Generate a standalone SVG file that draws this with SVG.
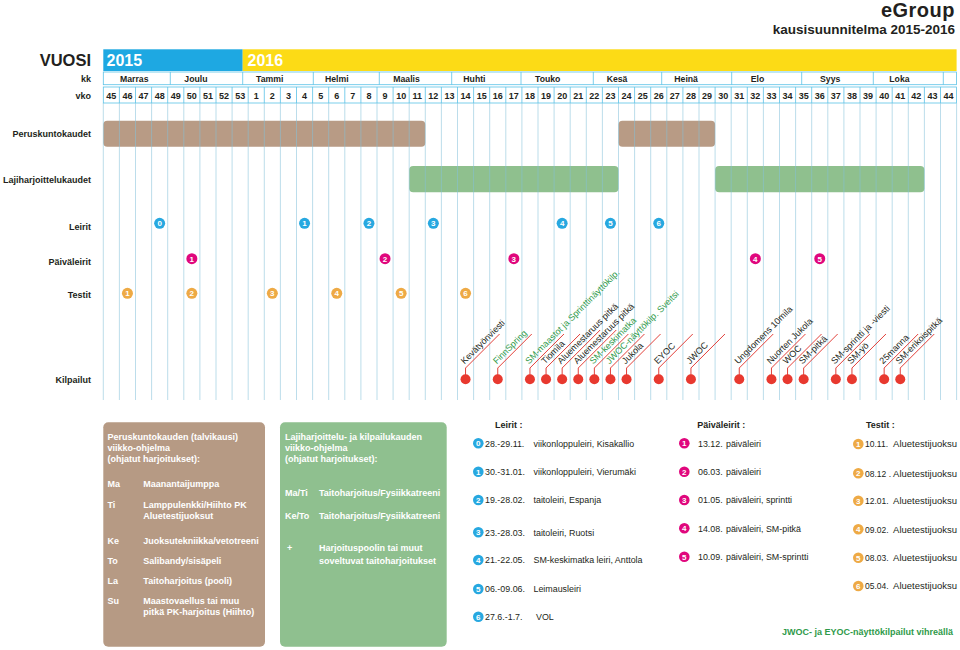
<svg xmlns="http://www.w3.org/2000/svg" width="960" height="650" viewBox="0 0 960 650">
<style>
text{font-family:"Liberation Sans",Arial,sans-serif}
.lbl{font-size:9px;font-weight:bold;fill:#231f20;text-anchor:end}
.mo{font-size:8.7px;font-weight:bold;fill:#231f20}
.wk{font-size:9px;font-weight:bold;fill:#231f20;text-anchor:middle}
.cell{fill:#fff;stroke:#5bc2e7;stroke-width:0.8}
.sep{stroke:#5bc2e7;stroke-width:0.8}
.grid{stroke:#84c2da;stroke-width:0.9;opacity:0.6}
.barb{fill:#b89b85}
.barg{fill:#8fc08e}
.cb{fill:#27a8e0}.cm{fill:#e0077d}.co{fill:#eeaa45}
.num{font-size:8px;font-weight:bold;fill:#fff;text-anchor:middle}
.dot{fill:#e8392f}
.lead{fill:none;stroke:#e2403a;stroke-width:1}
.comp{font-size:9px;fill:#231f20}
.gr{fill:#2f9a4a}
.box{font-size:9px;font-weight:bold;fill:#fff}
.leg{font-size:8.9px;fill:#231f20}
.legd{font-size:8.5px;fill:#231f20}
.legt{font-size:9.5px;fill:#231f20;text-anchor:end}
.legh{font-size:9px;font-weight:bold;fill:#231f20}
</style>
<rect width="960" height="650" fill="#fff"/>

<g id="title">
<text x="955" y="17" text-anchor="end" font-size="20" font-weight="bold" fill="#231f20" letter-spacing="0.5">eGroup</text>
<text x="955" y="33.5" text-anchor="end" font-size="13.5" font-weight="bold" fill="#231f20">kausisuunnitelma 2015-2016</text>
</g>

<g id="header">
<text x="91" y="66" text-anchor="end" font-size="16.5" font-weight="bold" fill="#231f20">VUOSI</text>
<rect x="103.3" y="49.3" width="139.4" height="21.7" fill="#1ea8e2"/>
<rect x="242.7" y="49.3" width="713.9" height="21.7" fill="#fcdb16"/>
<text x="106.5" y="66" font-size="16" font-weight="bold" fill="#fff">2015</text>
<text x="247.5" y="66" font-size="16" font-weight="bold" fill="#fff">2016</text>
<text x="91" y="81.8" class="lbl">kk</text>
<text x="91" y="98.5" class="lbl">vko</text>
<rect class="cell" x="103.3" y="72" width="853.3" height="12.7"/>
<path class="sep" d="M170.3 72V84.7M242.7 72V84.7M313.3 72V84.7M379.3 72V84.7M451.7 72V84.7M521 72V84.7M593.3 72V84.7M661.7 72V84.7M731.7 72V84.7M801.7 72V84.7M873.3 72V84.7M943.3 72V84.7"/>
<text class="mo" y="81.8" x="120">Marras</text>
<text class="mo" y="81.8" x="184.3">Joulu</text>
<text class="mo" y="81.8" x="256">Tammi</text>
<text class="mo" y="81.8" x="325">Helmi</text>
<text class="mo" y="81.8" x="393.3">Maalis</text>
<text class="mo" y="81.8" x="463.3">Huhti</text>
<text class="mo" y="81.8" x="535">Touko</text>
<text class="mo" y="81.8" x="606.7">Kesä</text>
<text class="mo" y="81.8" x="674.3">Heinä</text>
<text class="mo" y="81.8" x="750.7">Elo</text>
<text class="mo" y="81.8" x="820">Syys</text>
<text class="mo" y="81.8" x="889.3">Loka</text>
<rect class="cell" x="103.3" y="87" width="853.3" height="16"/>
<path class="sep" d="M119.4 87v16M135.5 87v16M151.6 87v16M167.7 87v16M183.8 87v16M199.9 87v16M216 87v16M232.1 87v16M248.2 87v16M264.3 87v16M280.4 87v16M296.5 87v16M312.6 87v16M328.7 87v16M344.8 87v16M360.9 87v16M377 87v16M393.1 87v16M409.2 87v16M425.3 87v16M441.4 87v16M457.5 87v16M473.6 87v16M489.7 87v16M505.8 87v16M521.9 87v16M538 87v16M554.1 87v16M570.2 87v16M586.3 87v16M602.4 87v16M618.5 87v16M634.6 87v16M650.7 87v16M666.8 87v16M682.9 87v16M699 87v16M715.1 87v16M731.2 87v16M747.3 87v16M763.4 87v16M779.5 87v16M795.6 87v16M811.7 87v16M827.8 87v16M843.9 87v16M860 87v16M876.1 87v16M892.2 87v16M908.3 87v16M924.4 87v16M940.5 87v16"/>
<g class="wk">
<text x="111.35" y="98.5">45</text><text x="127.45" y="98.5">46</text><text x="143.55" y="98.5">47</text><text x="159.65" y="98.5">48</text><text x="175.75" y="98.5">49</text><text x="191.85" y="98.5">50</text><text x="207.95" y="98.5">51</text><text x="224.05" y="98.5">52</text><text x="240.15" y="98.5">53</text>
<text x="256.25" y="98.5">1</text><text x="272.35" y="98.5">2</text><text x="288.45" y="98.5">3</text><text x="304.55" y="98.5">4</text><text x="320.65" y="98.5">5</text><text x="336.75" y="98.5">6</text><text x="352.85" y="98.5">7</text><text x="368.95" y="98.5">8</text><text x="385.05" y="98.5">9</text><text x="401.15" y="98.5">10</text>
<text x="417.25" y="98.5">11</text><text x="433.35" y="98.5">12</text><text x="449.45" y="98.5">13</text><text x="465.55" y="98.5">14</text><text x="481.65" y="98.5">15</text><text x="497.75" y="98.5">16</text><text x="513.85" y="98.5">17</text><text x="529.95" y="98.5">18</text><text x="546.05" y="98.5">19</text><text x="562.15" y="98.5">20</text>
<text x="578.25" y="98.5">21</text><text x="594.35" y="98.5">22</text><text x="610.45" y="98.5">23</text><text x="626.55" y="98.5">24</text><text x="642.65" y="98.5">25</text><text x="658.75" y="98.5">26</text><text x="674.85" y="98.5">27</text><text x="690.95" y="98.5">28</text><text x="707.05" y="98.5">29</text><text x="723.15" y="98.5">30</text>
<text x="739.25" y="98.5">31</text><text x="755.35" y="98.5">32</text><text x="771.45" y="98.5">33</text><text x="787.55" y="98.5">34</text><text x="803.65" y="98.5">35</text><text x="819.75" y="98.5">36</text><text x="835.85" y="98.5">37</text><text x="851.95" y="98.5">38</text><text x="868.05" y="98.5">39</text><text x="884.15" y="98.5">40</text>
<text x="900.25" y="98.5">41</text><text x="916.35" y="98.5">42</text><text x="932.45" y="98.5">43</text><text x="948.55" y="98.5">44</text>
</g>
</g>

<g id="row-labels">
<text x="91" y="137" class="lbl">Peruskuntokaudet</text>
<text x="91" y="183" class="lbl">Lajiharjoittelukaudet</text>
<text x="91" y="229.5" class="lbl">Leirit</text>
<text x="91" y="265" class="lbl">Päiväleirit</text>
<text x="91" y="297.5" class="lbl">Testit</text>
<text x="91" y="383" class="lbl">Kilpailut</text>
</g>

<g id="peruskunto-bars">
<rect class="barb" x="103.3" y="120.7" width="322" height="26" rx="4"/>
<rect class="barb" x="618.5" y="120.7" width="96.6" height="26" rx="4"/>
</g>
<g id="lajiharjoittelu-bars">
<rect class="barg" x="409.2" y="166" width="209.3" height="26.3" rx="4"/>
<rect class="barg" x="715.1" y="166" width="209.3" height="26.3" rx="4"/>
</g>

<path class="grid" d="M103.3 103V400M119.4 103V400M135.5 103V400M151.6 103V400M167.7 103V400M183.8 103V400M199.9 103V400M216 103V400M232.1 103V400M248.2 103V400M264.3 103V400M280.4 103V400M296.5 103V400M312.6 103V400M328.7 103V400M344.8 103V400M360.9 103V400M377 103V400M393.1 103V400M409.2 103V400M425.3 103V400M441.4 103V400M457.5 103V400M473.6 103V400M489.7 103V400M505.8 103V400M521.9 103V400M538 103V400M554.1 103V400M570.2 103V400M586.3 103V400M602.4 103V400M618.5 103V400M634.6 103V400M650.7 103V400M666.8 103V400M682.9 103V400M699 103V400M715.1 103V400M731.2 103V400M747.3 103V400M763.4 103V400M779.5 103V400M795.6 103V400M811.7 103V400M827.8 103V400M843.9 103V400M860 103V400M876.1 103V400M892.2 103V400M908.3 103V400M924.4 103V400M940.5 103V400M956.6 103V400"/>

<g id="leirit">
<circle class="cb" cx="159.65" cy="223.3" r="5.5"/><text class="num" x="159.65" y="226.1">0</text>
<circle class="cb" cx="304.55" cy="223.3" r="5.5"/><text class="num" x="304.55" y="226.1">1</text>
<circle class="cb" cx="368.95" cy="223.3" r="5.5"/><text class="num" x="368.95" y="226.1">2</text>
<circle class="cb" cx="433.35" cy="223.3" r="5.5"/><text class="num" x="433.35" y="226.1">3</text>
<circle class="cb" cx="562.15" cy="223.3" r="5.5"/><text class="num" x="562.15" y="226.1">4</text>
<circle class="cb" cx="610.45" cy="223.3" r="5.5"/><text class="num" x="610.45" y="226.1">5</text>
<circle class="cb" cx="658.75" cy="223.3" r="5.5"/><text class="num" x="658.75" y="226.1">6</text>
</g>
<g id="paivaleirit">
<circle class="cm" cx="191.85" cy="258.7" r="5.5"/><text class="num" x="191.85" y="261.5">1</text>
<circle class="cm" cx="385.05" cy="258.7" r="5.5"/><text class="num" x="385.05" y="261.5">2</text>
<circle class="cm" cx="513.85" cy="258.7" r="5.5"/><text class="num" x="513.85" y="261.5">3</text>
<circle class="cm" cx="755.35" cy="258.7" r="5.5"/><text class="num" x="755.35" y="261.5">4</text>
<circle class="cm" cx="819.75" cy="258.7" r="5.5"/><text class="num" x="819.75" y="261.5">5</text>
</g>
<g id="testit">
<circle class="co" cx="127.45" cy="293.3" r="5.5"/><text class="num" x="127.45" y="296.1">1</text>
<circle class="co" cx="191.85" cy="293.3" r="5.5"/><text class="num" x="191.85" y="296.1">2</text>
<circle class="co" cx="272.35" cy="293.3" r="5.5"/><text class="num" x="272.35" y="296.1">3</text>
<circle class="co" cx="336.75" cy="293.3" r="5.5"/><text class="num" x="336.75" y="296.1">4</text>
<circle class="co" cx="401.15" cy="293.3" r="5.5"/><text class="num" x="401.15" y="296.1">5</text>
<circle class="co" cx="465.55" cy="293.3" r="5.5"/><text class="num" x="465.55" y="296.1">6</text>
</g>

<g id="connectors">
<path class="lead" d="M465.55 375V368L499.55 334"/>
<path class="lead" d="M497.75 375V368L531.75 334"/>
<path class="lead" d="M529.95 375V368L563.95 334"/>
<path class="lead" d="M546.05 375V368L580.05 334"/>
<path class="lead" d="M562.15 375V368L600.15 330"/>
<path class="lead" d="M578.25 375V368L616.25 330"/>
<path class="lead" d="M594.35 375V368L628.35 334"/>
<path class="lead" d="M610.45 375V368L644.45 334"/>
<path class="lead" d="M626.55 375V368L660.55 334"/>
<path class="lead" d="M658.75 375V368L692.75 334"/>
<path class="lead" d="M690.95 375V368L724.95 334"/>
<path class="lead" d="M739.25 375V368L773.25 334"/>
<path class="lead" d="M771.45 375V368L805.45 334"/>
<path class="lead" d="M787.55 375V368L821.55 334"/>
<path class="lead" d="M803.65 375V368L837.65 334"/>
<path class="lead" d="M835.85 375V368L869.85 334"/>
<path class="lead" d="M851.95 375V368L885.95 334"/>
<path class="lead" d="M884.15 375V368L918.15 334"/>
<path class="lead" d="M900.25 375V368L934.25 334"/>
</g>

<g id="kilpailut">
<g id="k1"><circle class="dot" cx="465.55" cy="379.3" r="5"/><text class="comp" transform="translate(464.5 364.5) rotate(-45)">Kevätyönviesti</text></g>
<g id="k2"><circle class="dot" cx="497.75" cy="379.3" r="5"/><text class="comp gr" transform="translate(496.7 364.5) rotate(-45)">FinnSpring</text></g>
<g id="k3"><circle class="dot" cx="529.95" cy="379.3" r="5"/><text class="comp gr" transform="translate(528.9 364.5) rotate(-45)">SM-maastot ja Sprinttinäyttökilp.</text></g>
<g id="k4"><circle class="dot" cx="546.05" cy="379.3" r="5"/><text class="comp" transform="translate(545 364.5) rotate(-45)">Tiomila</text></g>
<g id="k5"><circle class="dot" cx="562.15" cy="379.3" r="5"/><text class="comp" transform="translate(561.1 364.5) rotate(-45)">Aluemestaruus pitkä</text></g>
<g id="k6"><circle class="dot" cx="578.25" cy="379.3" r="5"/><text class="comp" transform="translate(577.2 364.5) rotate(-45)">Aluemestaruus pitkä</text></g>
<g id="k7"><circle class="dot" cx="594.35" cy="379.3" r="5"/><text class="comp gr" transform="translate(593.3 364.5) rotate(-45)">SM-keskimatka</text></g>
<g id="k8"><circle class="dot" cx="610.45" cy="379.3" r="5"/><text class="comp gr" transform="translate(609.4 364.5) rotate(-45)">JWOC-näyttökilp. Sveitsi</text></g>
<g id="k9"><circle class="dot" cx="626.55" cy="379.3" r="5"/><text class="comp" transform="translate(625.5 364.5) rotate(-45)">Jukola</text></g>
<g id="k10"><circle class="dot" cx="658.75" cy="379.3" r="5"/><text class="comp" transform="translate(657.7 364.5) rotate(-45)">EYOC</text></g>
<g id="k11"><circle class="dot" cx="690.95" cy="379.3" r="5"/><text class="comp" transform="translate(689.9 364.5) rotate(-45)">JWOC</text></g>
<g id="k12"><circle class="dot" cx="739.25" cy="379.3" r="5"/><text class="comp" transform="translate(738.2 364.5) rotate(-45)">Ungdomens 10mila</text></g>
<g id="k13"><circle class="dot" cx="771.45" cy="379.3" r="5"/><text class="comp" transform="translate(770.4 364.5) rotate(-45)">Nuorten Jukola</text></g>
<g id="k14"><circle class="dot" cx="787.55" cy="379.3" r="5"/><text class="comp" transform="translate(786.5 364.5) rotate(-45)">WOC</text></g>
<g id="k15"><circle class="dot" cx="803.65" cy="379.3" r="5"/><text class="comp" transform="translate(802.6 364.5) rotate(-45)">SM-pitkä</text></g>
<g id="k16"><circle class="dot" cx="835.85" cy="379.3" r="5"/><text class="comp" transform="translate(834.8 364.5) rotate(-45)">SM-sprintti ja -viesti</text></g>
<g id="k17"><circle class="dot" cx="851.95" cy="379.3" r="5"/><text class="comp" transform="translate(850.9 364.5) rotate(-45)">SM-yö</text></g>
<g id="k18"><circle class="dot" cx="884.15" cy="379.3" r="5"/><text class="comp" transform="translate(883.1 364.5) rotate(-45)">25manna</text></g>
<g id="k19"><circle class="dot" cx="900.25" cy="379.3" r="5"/><text class="comp" transform="translate(899.2 364.5) rotate(-45)">SM-erikoispitkä</text></g>
</g>

<g id="box-peruskunto">
<rect x="103.3" y="422.3" width="161.7" height="224.4" rx="5" fill="#b69a84"/>
<g class="box">
<text x="107.5" y="440">Peruskuntokauden (talvikausi)</text>
<text x="107.5" y="451">viikko-ohjelma</text>
<text x="107.5" y="462">(ohjatut harjoitukset):</text>
<text x="107.5" y="487">Ma</text><text x="143.3" y="487">Maanantaijumppa</text>
<text x="107.5" y="508">Ti</text><text x="143.3" y="508">Lamppulenkki/Hiihto PK</text>
<text x="143.3" y="519">Aluetestijuoksut</text>
<text x="107.5" y="544">Ke</text><text x="143.3" y="544">Juoksutekniikka/vetotreeni</text>
<text x="107.5" y="564">To</text><text x="143.3" y="564">Salibandy/sisäpeli</text>
<text x="107.5" y="584">La</text><text x="143.3" y="584">Taitoharjoitus (pooli)</text>
<text x="107.5" y="604">Su</text><text x="143.3" y="604">Maastovaellus tai muu</text>
<text x="143.3" y="615">pitkä PK-harjoitus (Hiihto)</text>
</g>
</g>

<g id="box-lajiharjoittelu">
<rect x="280" y="422.3" width="166.7" height="224.4" rx="5" fill="#8fc08f"/>
<g class="box">
<text x="285" y="440">Lajiharjoittelu- ja kilpailukauden</text>
<text x="285" y="451">viikko-ohjelma</text>
<text x="285" y="462">(ohjatut harjoitukset):</text>
<text x="285" y="496">Ma/Ti</text><text x="319" y="496">Taitoharjoitus/Fysiikkatreeni</text>
<text x="285" y="519">Ke/To</text><text x="319" y="519">Taitoharjoitus/Fysiikkatreeni</text>
<text x="287" y="551">+</text><text x="319" y="551">Harjoituspoolin tai muut</text>
<text x="319" y="564">soveltuvat taitoharjoitukset</text>
</g>
</g>

<g id="legend-leirit">
<text class="legh" x="495" y="428">Leirit :</text>
<circle class="cb" cx="478.3" cy="443.3" r="5.3"/><text class="num" x="478.3" y="446.1">0</text>
<text class="leg" x="485" y="446.5">28.-29.11.</text><text class="leg" x="533.5" y="446.5">viikonloppuleiri, Kisakallio</text>
<circle class="cb" cx="478.3" cy="471.7" r="5.3"/><text class="num" x="478.3" y="474.5">1</text>
<text class="leg" x="485" y="474.9">30.-31.01.</text><text class="leg" x="533.5" y="474.9">viikonloppuleiri, Vierumäki</text>
<circle class="cb" cx="478.3" cy="500" r="5.3"/><text class="num" x="478.3" y="502.8">2</text>
<text class="leg" x="485" y="503.2">19.-28.02.</text><text class="leg" x="533.5" y="503.2">taitoleiri, Espanja</text>
<circle class="cb" cx="478.3" cy="532.3" r="5.3"/><text class="num" x="478.3" y="535.1">3</text>
<text class="leg" x="485" y="535.5">23.-28.03.</text><text class="leg" x="533.5" y="535.5">taitoleiri, Ruotsi</text>
<circle class="cb" cx="478.3" cy="560" r="5.3"/><text class="num" x="478.3" y="562.8">4</text>
<text class="leg" x="485" y="563.2">21.-22.05.</text><text class="leg" x="533.5" y="563.2">SM-keskimatka leiri, Anttola</text>
<circle class="cb" cx="478.3" cy="589" r="5.3"/><text class="num" x="478.3" y="591.8">5</text>
<text class="leg" x="485" y="592.2">06.-09.06.</text><text class="leg" x="533.5" y="592.2">Leimausleiri</text>
<circle class="cb" cx="478.3" cy="616.7" r="5.3"/><text class="num" x="478.3" y="619.5">6</text>
<text class="leg" x="485" y="619.9">27.6.-1.7.</text><text class="leg" x="536" y="619.9">VOL</text>
</g>

<g id="legend-paivaleirit">
<text class="legh" x="697.3" y="428">Päiväleirit :</text>
<circle class="cm" cx="684.3" cy="443.3" r="5.3"/><text class="num" x="684.3" y="446.1">1</text>
<text class="leg" x="698" y="446.5">13.12.</text><text class="leg" x="726" y="446.5">päiväleiri</text>
<circle class="cm" cx="684.3" cy="471.7" r="5.3"/><text class="num" x="684.3" y="474.5">2</text>
<text class="leg" x="698" y="474.9">06.03.</text><text class="leg" x="726" y="474.9">päiväleiri</text>
<circle class="cm" cx="684.3" cy="500" r="5.3"/><text class="num" x="684.3" y="502.8">3</text>
<text class="leg" x="698" y="503.2">01.05.</text><text class="leg" x="726" y="503.2">päiväleiri, sprintti</text>
<circle class="cm" cx="684.3" cy="528.3" r="5.3"/><text class="num" x="684.3" y="531.1">4</text>
<text class="leg" x="698" y="531.5">14.08.</text><text class="leg" x="726" y="531.5">päiväleiri, SM-pitkä</text>
<circle class="cm" cx="684.3" cy="556.7" r="5.3"/><text class="num" x="684.3" y="559.5">5</text>
<text class="leg" x="698" y="559.9">10.09.</text><text class="leg" x="726" y="559.9">päiväleiri, SM-sprintti</text>
</g>

<g id="legend-testit">
<text class="legh" x="866" y="428">Testit :</text>
<circle class="co" cx="858.3" cy="444" r="5.3"/><text class="num" x="858.3" y="446.8">1</text>
<text class="legd" x="865" y="447.2">10.11.</text><text class="legt" x="957" y="447.2">Aluetestijuoksu</text>
<circle class="co" cx="858.3" cy="473.3" r="5.3"/><text class="num" x="858.3" y="476.1">2</text>
<text class="legd" x="865" y="476.5">08.12 .</text><text class="legt" x="957" y="476.5">Aluetestijuoksu</text>
<circle class="co" cx="858.3" cy="500.7" r="5.3"/><text class="num" x="858.3" y="503.5">3</text>
<text class="legd" x="865" y="503.9">12.01.</text><text class="legt" x="957" y="503.9">Aluetestijuoksu</text>
<circle class="co" cx="858.3" cy="529.3" r="5.3"/><text class="num" x="858.3" y="532.1">4</text>
<text class="legd" x="865" y="532.5">09.02.</text><text class="legt" x="957" y="532.5">Aluetestijuoksu</text>
<circle class="co" cx="858.3" cy="557.7" r="5.3"/><text class="num" x="858.3" y="560.5">5</text>
<text class="legd" x="865" y="560.9">08.03.</text><text class="legt" x="957" y="560.9">Aluetestijuoksu</text>
<circle class="co" cx="858.3" cy="586" r="5.3"/><text class="num" x="858.3" y="588.8">6</text>
<text class="legd" x="865" y="589.2">05.04.</text><text class="legt" x="957" y="589.2">Aluetestijuoksu</text>
</g>

<g id="footnote">
<text x="953" y="635" text-anchor="end" font-size="9" font-weight="bold" fill="#2f9a4a">JWOC- ja EYOC-näyttökilpailut vihreällä</text>
</g>
</svg>
